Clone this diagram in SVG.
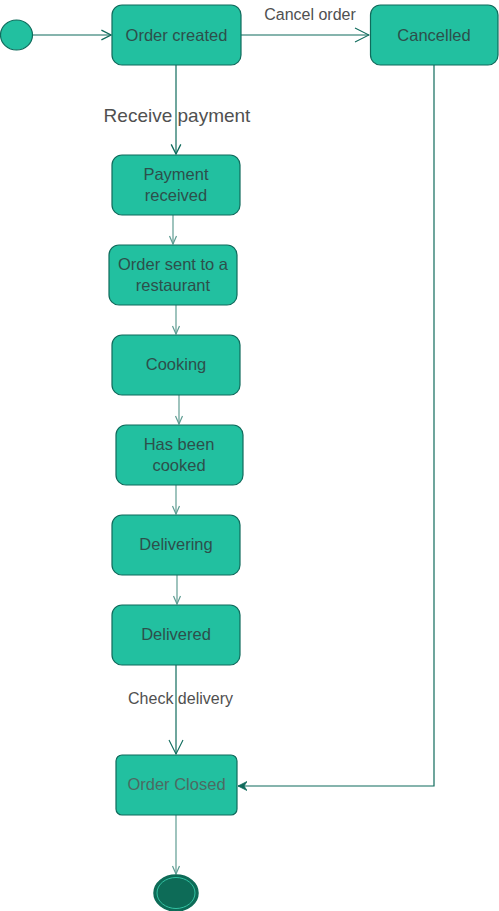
<svg xmlns="http://www.w3.org/2000/svg" width="499" height="911" viewBox="0 0 499 911">
<defs>
<style>
.node{fill:#22c0a0;stroke:#0f6b5c;stroke-width:1.2}
.lbl{font-family:"Liberation Sans",Arial,sans-serif;font-size:16.5px;fill:#2d4f4b;text-anchor:middle}
.edge{fill:none;stroke:#0f6b5c;stroke-width:1.2}
.edge2{fill:none;stroke:#5e9c92;stroke-width:1.2}
.elbl{font-family:"Liberation Sans",Arial,sans-serif;font-size:16px;fill:#505050;text-anchor:middle}
</style>
<marker id="open" markerUnits="userSpaceOnUse" markerWidth="12" markerHeight="12" refX="9" refY="5" orient="auto" viewBox="0 0 10 10">
<path d="M1,1 L9,5 L1,9" fill="none" stroke="#0f6b5c" stroke-width="1.1"/>
</marker>
<marker id="openS" markerUnits="userSpaceOnUse" markerWidth="10" markerHeight="10" refX="9" refY="5" orient="auto" viewBox="0 0 10 10">
<path d="M1,1.5 L9,5 L1,8.5" fill="none" stroke="#5e9c92" stroke-width="1.2"/>
</marker>
<marker id="openL" markerUnits="userSpaceOnUse" markerWidth="16" markerHeight="16" refX="15" refY="8" orient="auto" viewBox="0 0 16 16">
<path d="M1,1 L15,8 L1,15" fill="none" stroke="#0f6b5c" stroke-width="1.1"/>
</marker>
<marker id="block" markerUnits="userSpaceOnUse" markerWidth="10" markerHeight="10" refX="9" refY="5" orient="auto" viewBox="0 0 10 10">
<path d="M0,0.5 L9,5 L0,9.5 L3,5 Z" fill="#0f6b5c" stroke="#0f6b5c" stroke-width="0.8"/>
</marker>
</defs>

<g id="connectors">
<path class="edge" d="M33,35 L111,35" marker-end="url(#open)"/>
<path class="edge" d="M241,35 L369,35" marker-end="url(#openL)"/>
<path class="edge" d="M176,65 L176,154" marker-end="url(#open)"/>
<path class="edge2" d="M173,215 L173,244" marker-end="url(#openS)"/>
<path class="edge2" d="M176,305 L176,334" marker-end="url(#openS)"/>
<path class="edge2" d="M179,395 L179,424" marker-end="url(#openS)"/>
<path class="edge2" d="M176,485 L176,514" marker-end="url(#openS)"/>
<path class="edge2" d="M177,575 L177,604" marker-end="url(#openS)"/>
<path class="edge" d="M176,665 L176,754" marker-end="url(#openL)"/>
<path class="edge" d="M434,65 L434,786 L238,786" marker-end="url(#block)"/>
<path class="edge2" d="M176,815 L176,874" marker-end="url(#openS)"/>
<text class="elbl" x="310" y="20">Cancel order</text>
<text class="elbl" x="177" y="122" style="font-size:19px">Receive payment</text>
<text class="elbl" x="180.5" y="704">Check delivery</text>
</g>

<g id="start">
<ellipse cx="16.5" cy="35" rx="16" ry="15" class="node"/>
</g>

<g id="order-created">
<rect x="112" y="5" width="129" height="60" rx="10" class="node"/>
<text class="lbl" x="176.5" y="41">Order created</text>
</g>

<g id="cancelled">
<rect x="370.5" y="5" width="127.5" height="60" rx="10" class="node"/>
<text class="lbl" x="434" y="41">Cancelled</text>
</g>

<g id="payment-received">
<rect x="112" y="155" width="128" height="60" rx="10" class="node"/>
<text class="lbl" x="176" y="180">Payment</text>
<text class="lbl" x="176" y="201">received</text>
</g>

<g id="order-sent">
<rect x="109" y="245" width="128" height="60" rx="10" class="node"/>
<text class="lbl" x="173" y="270">Order sent to a</text>
<text class="lbl" x="173" y="291">restaurant</text>
</g>

<g id="cooking">
<rect x="112" y="335" width="128" height="60" rx="10" class="node"/>
<text class="lbl" x="176" y="370">Cooking</text>
</g>

<g id="has-been-cooked">
<rect x="116" y="425" width="127" height="60" rx="10" class="node"/>
<text class="lbl" x="179" y="450">Has been</text>
<text class="lbl" x="179" y="471">cooked</text>
</g>

<g id="delivering">
<rect x="112" y="515" width="128" height="60" rx="10" class="node"/>
<text class="lbl" x="176" y="550">Delivering</text>
</g>

<g id="delivered">
<rect x="112" y="605" width="128" height="60" rx="10" class="node"/>
<text class="lbl" x="176" y="640">Delivered</text>
</g>

<g id="order-closed">
<rect x="116" y="755" width="121" height="60" rx="6" class="node"/>
<text class="lbl" x="176.5" y="790" style="fill:#4d6a62">Order Closed</text>
</g>

<g id="end">
<ellipse cx="176" cy="893" rx="22" ry="18" fill="#0d6b57" stroke="#0d6b57" stroke-width="1.5"/>
<ellipse cx="176" cy="893" rx="19" ry="15.5" fill="#0d6b57" stroke="#33c2a2" stroke-width="1"/>
</g>
</svg>
